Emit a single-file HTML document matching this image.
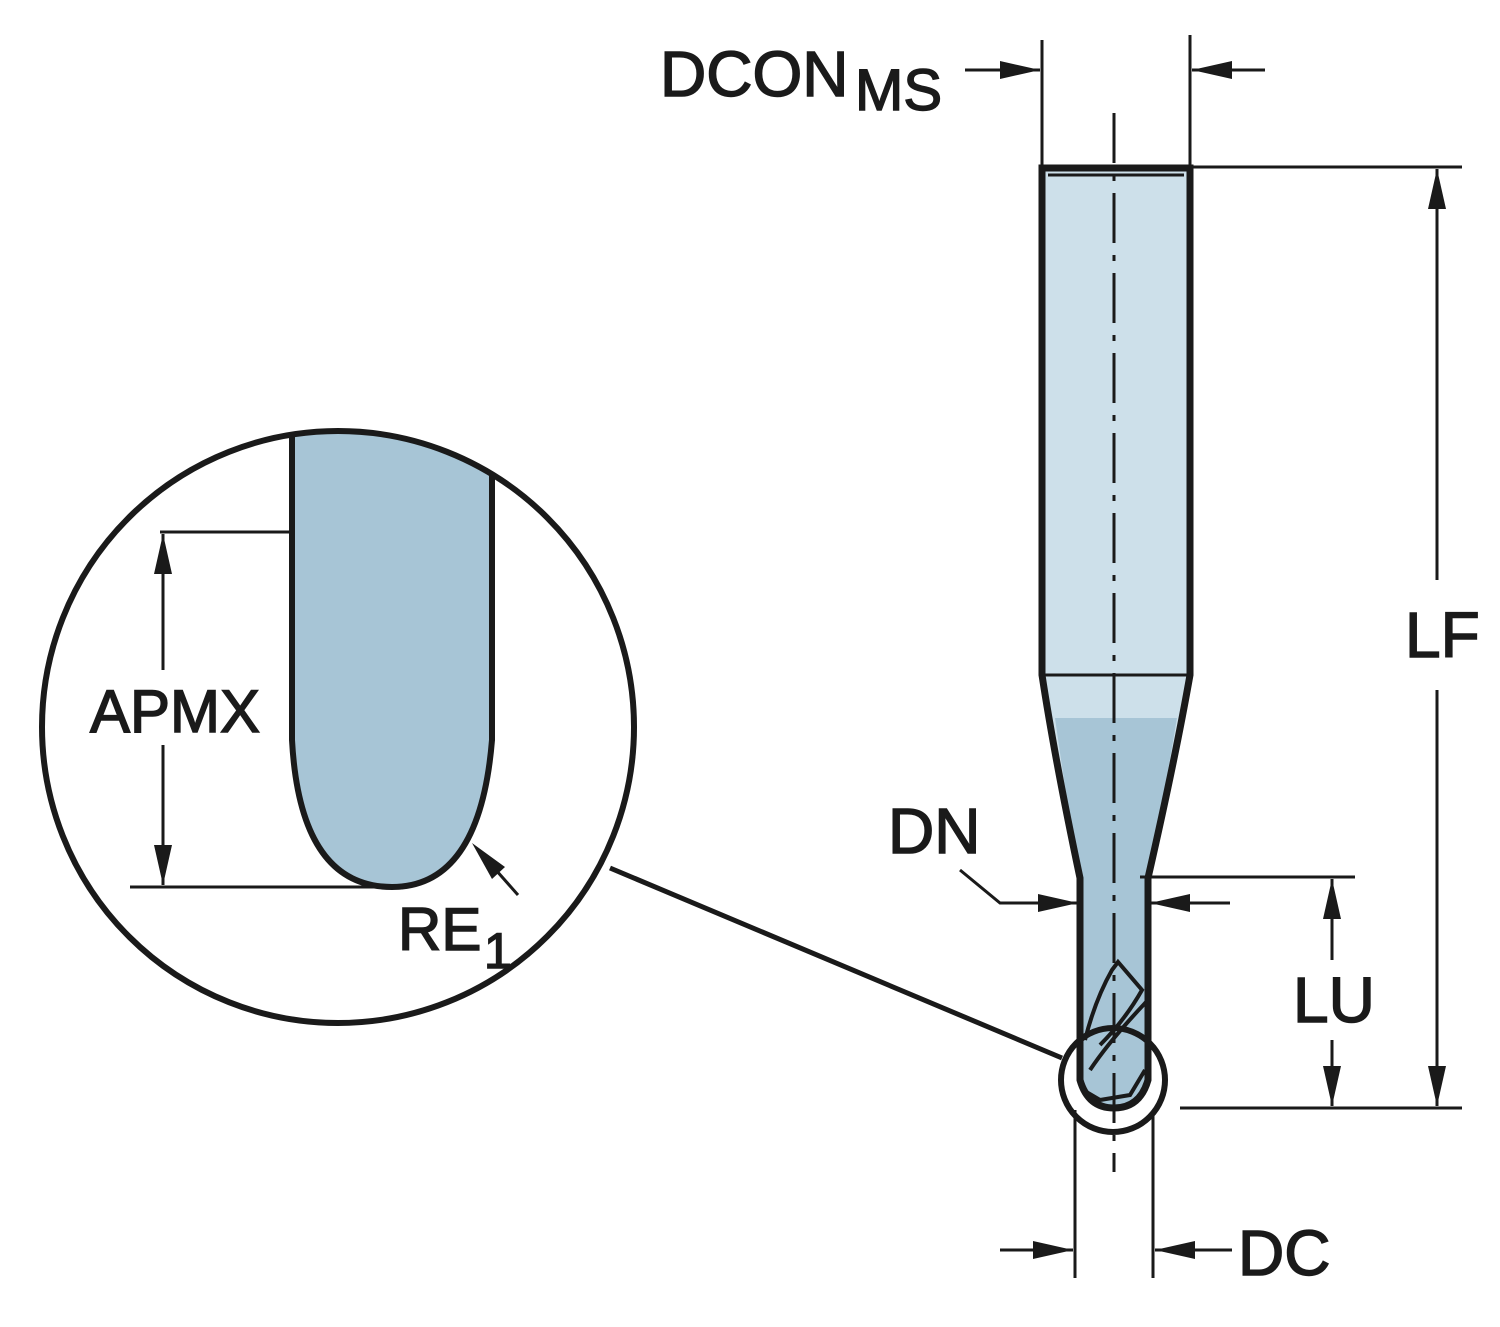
<!DOCTYPE html>
<html><head><style>body{margin:0;background:#fff}</style></head><body>
<svg width="1500" height="1322" viewBox="0 0 1500 1322" xmlns="http://www.w3.org/2000/svg" font-family="Liberation Sans, sans-serif">
<defs>
<clipPath id="c"><circle cx="338" cy="727" r="296"/></clipPath>
</defs>
<g stroke="#1a1a1a" fill="none">
<path d="M1042 168 L1190 168 L1190 675 Q1175 760 1148 878 L1148 1080 Q1140 1108 1114 1108 Q1088 1108 1080 1080 L1080 878 Q1055 760 1042 675 Z" fill="#cde0ea" stroke="none"/>
<path d="M1055 718 L1177 718 Q1165 790 1148 878 L1148 1080 Q1140 1108 1114 1108 Q1088 1108 1080 1080 L1080 878 Q1065 790 1055 718 Z" fill="#a7c5d6" stroke="none"/>
<path d="M1042 168 L1190 168 L1190 675 Q1175 760 1148 878 L1148 1080 Q1140 1108 1114 1108 Q1088 1108 1080 1080 L1080 878 Q1055 760 1042 675 Z" stroke-width="7"/>
<line x1="1048" y1="175" x2="1184" y2="175" stroke-width="3"/>
<line x1="1042" y1="675" x2="1190" y2="675" stroke-width="3"/>
<path d="M1085 1040 Q1095 1000 1112 970 L1118 962 L1142 990 Q1125 1020 1100 1045 M1090 1070 Q1110 1040 1148 1000 M1083 1090 L1100 1100 L1130 1095 L1145 1070" stroke-width="4"/>
<line x1="1114" y1="113" x2="1114" y2="1172" stroke-width="3" stroke-dasharray="50 12 6 12"/>
<line x1="1042" y1="40" x2="1042" y2="165" stroke-width="3"/>
<line x1="1190" y1="35" x2="1190" y2="165" stroke-width="3"/>
<line x1="965" y1="70" x2="1040" y2="70" stroke-width="3"/>
<line x1="1265" y1="70" x2="1192" y2="70" stroke-width="3"/>
<line x1="1190" y1="167" x2="1462" y2="167" stroke-width="3"/>
<line x1="1180" y1="1108" x2="1462" y2="1108" stroke-width="3"/>
<line x1="1437" y1="580" x2="1437" y2="169" stroke-width="3"/>
<line x1="1437" y1="690" x2="1437" y2="1106" stroke-width="3"/>
<line x1="1140" y1="877" x2="1355" y2="877" stroke-width="3"/>
<line x1="1332" y1="960" x2="1332" y2="879" stroke-width="3"/>
<line x1="1332" y1="1040" x2="1332" y2="1106" stroke-width="3"/>
<polyline points="960,870 1000,903 1078,903" stroke-width="3"/>
<line x1="1230" y1="903" x2="1150" y2="903" stroke-width="3"/>
<line x1="1075" y1="1110" x2="1075" y2="1278" stroke-width="3"/>
<line x1="1153" y1="1110" x2="1153" y2="1278" stroke-width="3"/>
<line x1="1000" y1="1250" x2="1073" y2="1250" stroke-width="3"/>
<line x1="1232" y1="1250" x2="1155" y2="1250" stroke-width="3"/>
<circle cx="1113" cy="1080" r="52" stroke-width="6"/>
<line x1="610" y1="868" x2="1062" y2="1058" stroke-width="5"/>
<g clip-path="url(#c)">
<path d="M292 420 L292 740 Q300 887 392 887 Q480 887 492 740 L492 420 Z" fill="#a7c5d6" stroke-width="6"/>
</g>
<circle cx="338" cy="727" r="296" stroke-width="6"/>
<line x1="160" y1="532" x2="292" y2="532" stroke-width="3"/>
<line x1="130" y1="887" x2="380" y2="887" stroke-width="3"/>
<line x1="163" y1="670" x2="163" y2="534" stroke-width="3"/>
<line x1="163" y1="745" x2="163" y2="885" stroke-width="3"/>
<line x1="518" y1="895" x2="480" y2="852" stroke-width="3"/>
</g>
<g fill="#1a1a1a">
<polygon points="1040,70 1000,61 1000,79"/>
<polygon points="1192,70 1232,61 1232,79"/>
<polygon points="1437,169 1428,209 1446,209"/>
<polygon points="1437,1106 1428,1066 1446,1066"/>
<polygon points="1332,879 1323,919 1341,919"/>
<polygon points="1332,1106 1323,1066 1341,1066"/>
<polygon points="1078,903 1038,894 1038,912"/>
<polygon points="1150,903 1190,894 1190,912"/>
<polygon points="1073,1250 1033,1241 1033,1259"/>
<polygon points="1155,1250 1195,1241 1195,1259"/>
<polygon points="163,534 154,574 172,574"/>
<polygon points="163,885 154,845 172,845"/>
<polygon points="472,843 505,867 492,879"/>
</g>
<g fill="#1a1a1a" stroke="#1a1a1a" stroke-width="1.5" font-size="64">
<text x="660" y="96">DCON</text><text x="855" y="110" font-size="58">MS</text>
<text x="1405" y="657">LF</text>
<text x="1293" y="1022">LU</text>
<text x="888" y="853">DN</text>
<text x="1238" y="1275">DC</text>
<text x="90" y="732" font-size="60">APMX</text>
<text x="398" y="950" font-size="60">RE</text><text x="484" y="968" font-size="50">1</text>
</g>
</svg>
</body></html>
